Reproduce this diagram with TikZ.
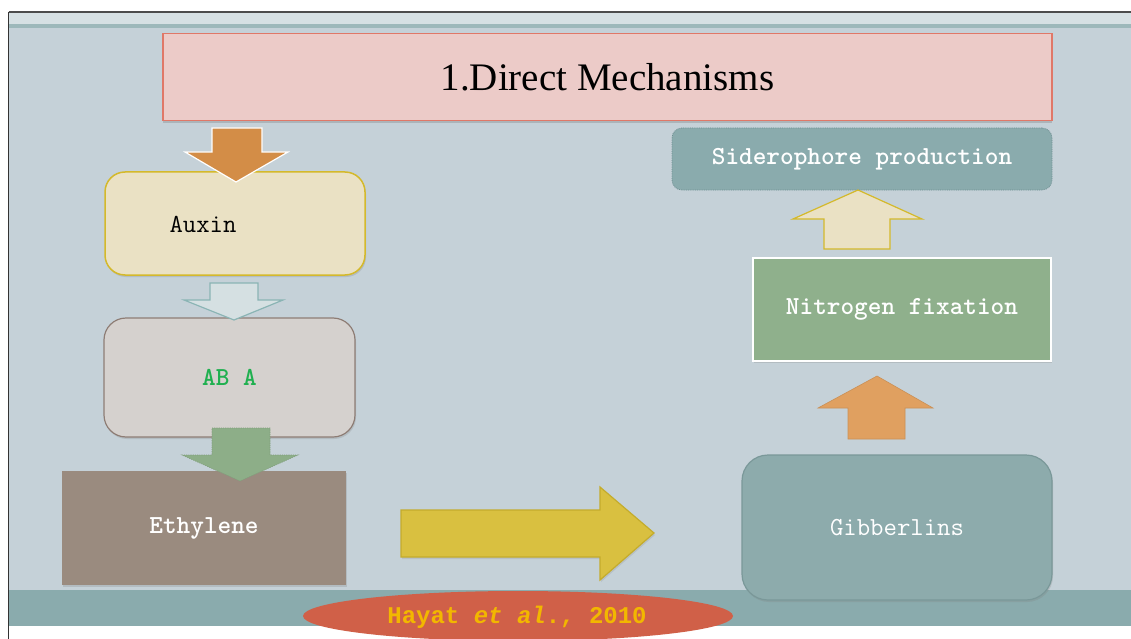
\documentclass[tikz,border=0pt]{standalone}
\usepackage{fontspec}
\setmainfont{Liberation Serif}
\newfontfamily\monof{Liberation Mono}
\usetikzlibrary{shapes.geometric,shadows}
\definecolor{slidebg}{HTML}{C5D1D8}
\definecolor{topband}{HTML}{D6E0E3}
\definecolor{tealline}{HTML}{9DB8BA}
\definecolor{bandteal}{HTML}{8AABAD}
\definecolor{titlefill}{HTML}{ECCBC8}
\definecolor{titledraw}{HTML}{E07868}
\definecolor{auxfill}{HTML}{EAE1C4}
\definecolor{auxdraw}{HTML}{D4B92B}
\definecolor{abafill}{HTML}{D5D1CE}
\definecolor{abadraw}{HTML}{8E7D75}
\definecolor{abatext}{HTML}{20B050}
\definecolor{ethfill}{HTML}{9A8B7F}
\definecolor{gibfill}{HTML}{8DABAC}
\definecolor{gibdraw}{HTML}{7A9899}
\definecolor{nitfill}{HTML}{8FB08C}
\definecolor{sidfill}{HTML}{8AABAD}
\definecolor{sidDraw}{HTML}{6F8F92}
\definecolor{arrorange}{HTML}{D38D47}
\definecolor{arrlight}{HTML}{D5E0E2}
\definecolor{arrlightdraw}{HTML}{8AB4B4}
\definecolor{arrgreen}{HTML}{8DAE88}
\definecolor{arryellow}{HTML}{D9C040}
\definecolor{arryellowdraw}{HTML}{C4AC2C}
\definecolor{arrorange2}{HTML}{E0A060}
\definecolor{ellfill}{HTML}{D06048}
\definecolor{refgold}{HTML}{F2B700}
\tikzset{
  boxshadow/.style={drop shadow={opacity=0.25,shadow xshift=1pt,shadow yshift=-2pt}},
  labeltext/.style={font=\ttfamily\fontsize{26}{28}\selectfont},
  titlebox/.style={draw=titledraw,line width=1.5pt,fill=titlefill,
    drop shadow={opacity=0.35,shadow xshift=0pt,shadow yshift=-2.5pt},
    font=\fontsize{39}{44}\selectfont},
  auxbox/.style={draw=auxdraw,line width=1.5pt,fill=auxfill,rounded corners=20pt,boxshadow,labeltext},
  ababox/.style={draw=abadraw,line width=1.2pt,fill=abafill,rounded corners=22pt,boxshadow,labeltext,text=abatext},
  ethbox/.style={fill=ethfill,boxshadow,labeltext,text=white},
  gibbox/.style={draw=gibdraw,line width=1.2pt,fill=gibfill,rounded corners=26pt,boxshadow,labeltext,text=white},
  nitbox/.style={draw=white,line width=1.5pt,fill=nitfill,boxshadow,labeltext,text=white},
  sidbox/.style={draw=sidDraw,densely dotted,line width=0.8pt,fill=sidfill,rounded corners=10pt,labeltext,text=white},
  blockarrow/.style={line width=1.2pt,line join=miter},
}
\begin{document}
\begin{tikzpicture}[x=1pt,y=-1pt]
\useasboundingbox (0,0) rectangle (1131,639);
\fill[white] (0,0) rectangle (1131,639);
% slide background
\fill[slidebg] (9,12) rectangle (1131,592);
\fill[topband] (9,12) rectangle (1131,24);
\fill[tealline] (9,24) rectangle (1131,28);
\fill[bandteal] (9,590) rectangle (1131,626);
\draw[black!70,line width=1.2pt] (8.5,12) -- (1131,12);
\draw[black!80,line width=1.2pt] (8.5,12) -- (8.5,639);

% title
\node[titlebox,minimum width=889pt,minimum height=87pt] (title) at (607.5,77) {1.Direct Mechanisms};

% left column
\node[auxbox,minimum width=260pt,minimum height=103pt] (auxin) at (235,223.5) {};
\node[labeltext] (auxinlbl) at (203,224) {Auxin};
\node[ababox,minimum width=251pt,minimum height=119pt] (aba) at (229.5,377.5) {\bfseries AB A};
\node[ethbox,minimum width=284pt,minimum height=114pt] (eth) at (204,528) {\bfseries Ethylene};

% down arrows
\draw[blockarrow,fill=arrorange,draw=white] (212,128) -- (262,128) -- (262,152) -- (288,152) -- (236,182) -- (185,152) -- (212,152) -- cycle;
\draw[blockarrow,fill=arrlight,draw=arrlightdraw] (210,283) -- (258,283) -- (258,300) -- (283,300) -- (234,320) -- (184,300) -- (210,300) -- cycle;
\draw[blockarrow,fill=arrgreen,draw=arrgreen!90!black,densely dotted,line width=0.6pt] (212,428) -- (270,428) -- (270,455) -- (298,455) -- (240,481) -- (182,455) -- (212,455) -- cycle;

% right column
\node[sidbox,minimum width=380pt,minimum height=62pt] (sid) at (862,159) {\bfseries Siderophore production};
\node[nitbox,minimum width=298pt,minimum height=103pt] (nit) at (902,309.5) {\bfseries Nitrogen fixation};
\node[gibbox,minimum width=310pt,minimum height=145pt] (gib) at (897,527.5) {Gibberlins};

% up arrows
\draw[blockarrow,fill=auxfill,draw=auxdraw] (824,249) -- (890,249) -- (890,219) -- (922,219) -- (858,190) -- (793,219) -- (824,219) -- cycle;
\draw[blockarrow,fill=arrorange2,draw=arrorange2!90!black,line width=0.6pt] (848,439) -- (905,439) -- (905,408) -- (933,408) -- (877,376) -- (818,408) -- (848,408) -- cycle;

% right arrow
\draw[blockarrow,fill=arryellow,draw=arryellowdraw,drop shadow={opacity=0.2,shadow xshift=1pt,shadow yshift=-2pt}] (401,510) -- (600,510) -- (600,487) -- (654,533) -- (600,580) -- (600,557) -- (401,557) -- cycle;

% reference
\node[ellipse,fill=ellfill,minimum width=430pt,minimum height=50pt,inner sep=0pt] (refell) at (518,616) {};
\node[font=\monof\bfseries\fontsize{24}{26}\selectfont,text=refgold] (ref) at (517,617) {Hayat \textit{et al}., 2010};
\end{tikzpicture}
\end{document}
